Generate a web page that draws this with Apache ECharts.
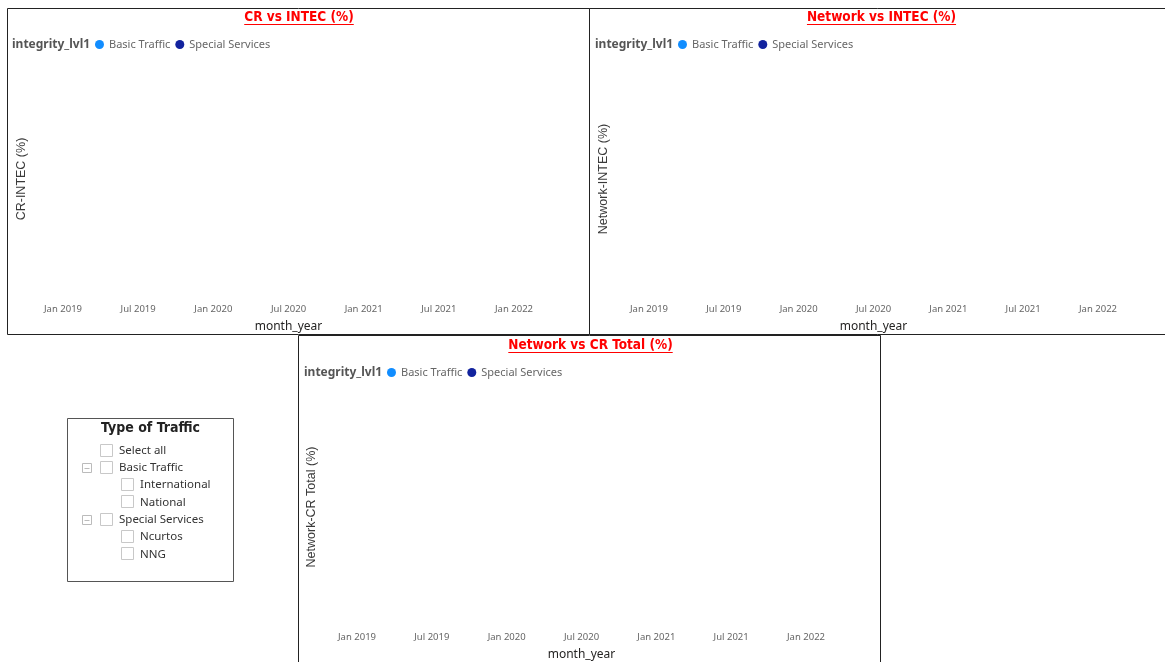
<!DOCTYPE html>
<html>
<head>
<meta charset="utf-8">
<script src="https://cdn.jsdelivr.net/npm/echarts@6/dist/echarts.min.js"></script>
<style>
  html, body { margin: 0; padding: 0; background: #fff; }
  #chart { width: 1165px; height: 662px; }
</style>
</head>
<body>
<div id="chart"></div>
<script>
// Month axis: months counted from Jan 2019, labelled every six months
const monthTickLabels = ['Jan 2019', 'Jul 2019', 'Jan 2020', 'Jul 2020', 'Jan 2021', 'Jul 2021', 'Jan 2022'];
const monthsPerTick = 6;

const seriesNames = ['Basic Traffic', 'Special Services'];
const seriesColors = ['#118DFF', '#12239E'];

// Values per month for each visual (no rows in the current filter context)
const crIntecBasic = [];
const crIntecSpecial = [];
const networkIntecBasic = [];
const networkIntecSpecial = [];
const networkCrBasic = [];
const networkCrSpecial = [];

const chartTitles = ['CR vs INTEC (%)', 'Network vs INTEC (%)', 'Network vs CR Total (%)'];
const yAxisNames = ['CR-INTEC (%)', 'Network-INTEC (%)', 'Network-CR Total (%)'];
const xAxisName = 'month_year';
const legendTitle = 'integrity_lvl1';

const slicerTitle = 'Type of Traffic';
const slicerItems = [
  { text: 'Select all', level: 0, group: false },
  { text: 'Basic Traffic', level: 0, group: true },
  { text: 'International', level: 1, group: false },
  { text: 'National', level: 1, group: false },
  { text: 'Special Services', level: 0, group: true },
  { text: 'Ncurtos', level: 1, group: false },
  { text: 'NNG', level: 1, group: false }
];

const seriesData = [
  [crIntecBasic, crIntecSpecial],
  [networkIntecBasic, networkIntecSpecial],
  [networkCrBasic, networkCrSpecial]
];

// Layout of the three visual panels
const panels = [
  { x: 7.5, y: 8.5, w: 582, h: 326, gridLeft: 63, gridWidth: 451, nameGap: 35 },
  { x: 589.5, y: 8.5, w: 600, h: 326, gridLeft: 649, gridWidth: 449, nameGap: 39 },
  { x: 298.5, y: 335.5, w: 582, h: 340, gridLeft: 357, gridWidth: 449, nameGap: 39 }
];
const panelOffsetY = [0, 0, 328];
const titleCenters = [299, 881.5, 590.5];
const legendLefts = [12, 595, 304];

const titleFont = 'bold 13.5px "DejaVu Sans Condensed"';
function textWidth(str, font) {
  const t = new echarts.graphic.Text({ style: { text: str, font: font } });
  return t.getBoundingRect().width;
}

const chart = echarts.init(document.getElementById('chart'), null, { renderer: 'canvas' });

const grids = [], xAxes = [], yAxes = [], series = [], titles = [], legends = [], graphics = [];

panels.forEach((p, i) => {
  const dy = panelOffsetY[i];
  grids.push({ left: p.gridLeft, width: p.gridWidth, top: 60 + dy, height: 238, containLabel: false });
  xAxes.push({
    type: 'value', gridIndex: i, min: 0, max: (monthTickLabels.length - 1) * monthsPerTick, interval: monthsPerTick,
    name: xAxisName, nameLocation: 'middle', nameGap: 23,
    nameTextStyle: { fontFamily: 'Noto Sans', fontSize: 12, color: '#252423' },
    axisLine: { show: false }, axisTick: { show: false }, splitLine: { show: false },
    axisLabel: {
      margin: 6, fontFamily: 'Noto Sans', fontSize: 9.5, color: '#666666',
      formatter: v => monthTickLabels[Math.round(v / monthsPerTick)] || ''
    }
  });
  yAxes.push({
    type: 'value', gridIndex: i, min: 0, max: 1,
    name: yAxisNames[i], nameLocation: 'middle', nameGap: p.nameGap,
    nameTextStyle: { fontFamily: 'Liberation Sans', fontSize: 12.5, color: '#3a3a3a' },
    axisLine: { show: false }, axisTick: { show: false }, splitLine: { show: false },
    axisLabel: { show: false }
  });
  seriesNames.forEach((name, k) => {
    series.push({
      type: 'line', name: name, xAxisIndex: i, yAxisIndex: i,
      data: seriesData[i][k], color: seriesColors[k], showSymbol: false
    });
  });
  titles.push({
    text: legendTitle, left: legendLefts[i], top: 39 + dy, padding: 0,
    textStyle: { fontFamily: 'Noto Sans', fontWeight: 'bold', fontSize: 12, color: '#555555' }
  });
  legends.push({
    data: seriesNames, left: legendLefts[i] + 83, top: 39 + dy, icon: 'circle',
    itemWidth: 9, itemHeight: 9, itemGap: 5, padding: 0,
    textStyle: { fontFamily: 'Noto Sans', fontSize: 11, color: '#666666' }
  });
  // chart title in red, underlined
  const tw = textWidth(chartTitles[i], titleFont);
  graphics.push({
    type: 'text', silent: true,
    style: {
      text: chartTitles[i], x: titleCenters[i], y: 17 + dy, align: 'center', verticalAlign: 'middle',
      font: titleFont, fill: '#FF0000'
    }
  });
  graphics.push({
    type: 'line', silent: true,
    shape: { x1: titleCenters[i] - tw / 2, y1: 24.5 + dy, x2: titleCenters[i] + tw / 2, y2: 24.5 + dy },
    style: { stroke: '#FF0000', lineWidth: 1.2 }
  });
  // panel frame
  graphics.push({
    type: 'rect', silent: true, z: 100,
    shape: { x: p.x, y: p.y, width: p.w, height: p.h },
    style: { fill: 'transparent', stroke: '#222222', lineWidth: 1 }
  });
});

// Traffic type slicer
const slicer = { x: 67.5, y: 418.5, w: 166, h: 163 };
graphics.push({
  type: 'rect', silent: true,
  shape: { x: slicer.x, y: slicer.y, width: slicer.w, height: slicer.h },
  style: { fill: '#ffffff', stroke: '#555555', lineWidth: 1 }
});
graphics.push({
  type: 'text', silent: true,
  style: {
    text: slicerTitle, x: slicer.x + slicer.w / 2, y: 428, align: 'center', verticalAlign: 'middle',
    font: 'bold 14px "DejaVu Sans Condensed"', fill: '#222222'
  }
});
slicerItems.forEach((item, j) => {
  const cy = 450.5 + j * 17.3;
  const boxX = item.level === 0 ? 100.5 : 121.5;
  if (item.group) {
    graphics.push({
      type: 'rect', silent: true,
      shape: { x: 82.5, y: Math.round(cy) - 4.5, width: 9, height: 9 },
      style: { fill: '#ffffff', stroke: '#BBBBBB', lineWidth: 1 }
    });
    graphics.push({
      type: 'line', silent: true,
      shape: { x1: 84.5, y1: Math.round(cy) + 0.5, x2: 89.5, y2: Math.round(cy) + 0.5 },
      style: { stroke: '#BBBBBB', lineWidth: 1 }
    });
  }
  graphics.push({
    type: 'rect', silent: true,
    shape: { x: boxX, y: Math.round(cy) - 6.5, width: 12, height: 12 },
    style: { fill: '#ffffff', stroke: '#C8C8C8', lineWidth: 1 }
  });
  graphics.push({
    type: 'text', silent: true,
    style: {
      text: item.text, x: boxX + 18.5, y: cy, verticalAlign: 'middle',
      font: '11.5px "Noto Sans"', fill: '#333333'
    }
  });
});

chart.setOption({
  backgroundColor: '#ffffff',
  animation: false,
  title: titles,
  legend: legends,
  grid: grids,
  xAxis: xAxes,
  yAxis: yAxes,
  series: series,
  graphic: graphics
});
</script>
</body>
</html>
